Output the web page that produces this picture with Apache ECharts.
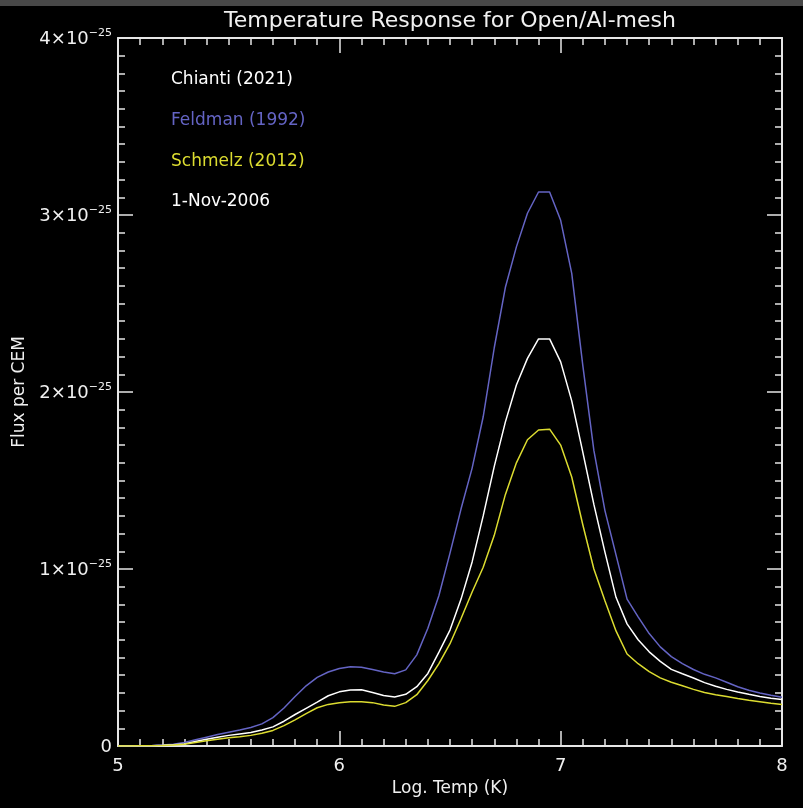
<!DOCTYPE html>
<html>
<head>
<meta charset="utf-8">
<script src="https://cdn.jsdelivr.net/npm/echarts@6/dist/echarts.min.js"></script>
<style>
  html, body { margin: 0; padding: 0; background: #000; }
  #chart { width: 803px; height: 808px; }
</style>
</head>
<body>
<div id="chart"></div>
<script>
// log T grid (K), 0.05 dex steps
const logT = [
  5.00, 5.05, 5.10, 5.15, 5.20, 5.25, 5.30, 5.35, 5.40, 5.45,
  5.50, 5.55, 5.60, 5.65, 5.70, 5.75, 5.80, 5.85, 5.90, 5.95,
  6.00, 6.05, 6.10, 6.15, 6.20, 6.25, 6.30, 6.35, 6.40, 6.45,
  6.50, 6.55, 6.60, 6.65, 6.70, 6.75, 6.80, 6.85, 6.90, 6.95,
  7.00, 7.05, 7.10, 7.15, 7.20, 7.25, 7.30, 7.35, 7.40, 7.45,
  7.50, 7.55, 7.60, 7.65, 7.70, 7.75, 7.80, 7.85, 7.90, 7.95,
  8.00
]

// flux per CEM, in units of 1e-25
const chianti2021 = [
  0.000, 0.000, 0.001, 0.002, 0.004, 0.007, 0.012, 0.025, 0.038, 0.050,
  0.060, 0.068, 0.076, 0.090, 0.108, 0.140, 0.178, 0.213, 0.248, 0.284,
  0.306, 0.317, 0.318, 0.302, 0.285, 0.277, 0.292, 0.335, 0.410, 0.530,
  0.655, 0.830, 1.040, 1.300, 1.580, 1.830, 2.040, 2.190, 2.300, 2.300,
  2.170, 1.950, 1.660, 1.365, 1.095, 0.840, 0.690, 0.600, 0.532, 0.478,
  0.433, 0.408, 0.384, 0.358, 0.338, 0.320, 0.305, 0.292, 0.280, 0.270,
  0.263
]
const feldman1992 = [
  0.000, 0.000, 0.001, 0.002, 0.005, 0.010, 0.020, 0.035, 0.050, 0.065,
  0.078, 0.090, 0.105, 0.125, 0.160, 0.215, 0.280, 0.340, 0.388, 0.418,
  0.438, 0.448, 0.445, 0.432, 0.418, 0.408, 0.430, 0.515, 0.665, 0.850,
  1.090, 1.340, 1.570, 1.860, 2.250, 2.590, 2.820, 3.010, 3.130, 3.130,
  2.970, 2.670, 2.150, 1.670, 1.330, 1.080, 0.830, 0.730, 0.635, 0.560,
  0.505, 0.465, 0.432, 0.405, 0.385, 0.360, 0.335, 0.315, 0.300, 0.287,
  0.276
]
const schmelz2012 = [
  0.000, 0.000, 0.001, 0.002, 0.003, 0.005, 0.010, 0.020, 0.030, 0.038,
  0.046, 0.052, 0.060, 0.072, 0.088, 0.115, 0.148, 0.183, 0.216, 0.235,
  0.245, 0.250, 0.250, 0.245, 0.232, 0.224, 0.245, 0.290, 0.370, 0.465,
  0.578, 0.720, 0.870, 1.010, 1.190, 1.420, 1.600, 1.730, 1.785, 1.790,
  1.700, 1.520, 1.250, 1.000, 0.820, 0.650, 0.520, 0.465, 0.420, 0.385,
  0.360, 0.340, 0.320, 0.302, 0.290, 0.280, 0.268, 0.258, 0.250, 0.242,
  0.235
]

const seriesNames = ['Chianti (2021)', 'Feldman (1992)', 'Schmelz (2012)']
const seriesColors = ['#ffffff', '#6464c4', '#dcdc30']
const dateLabel = '1-Nov-2006'

const FONT = '"DejaVu Sans", sans-serif'
const AXIS_COLOR = '#e6e6e6'
const TEXT_COLOR = '#f0f0f0'

function pairs(ys) {
  return logT.map((t, i) => [t, ys[i]])
}

const tickStyle = {
  inside: true,
  length: 15,
  lineStyle: { color: AXIS_COLOR, width: 1.5 }
}
const minorStyle = {
  show: true,
  splitNumber: 10,
  length: 7,
  lineStyle: { color: AXIS_COLOR, width: 1.5 }
}
const lineStyleAxis = { show: true, onZero: false, lineStyle: { color: AXIS_COLOR, width: 2 } }

const chart = echarts.init(document.getElementById('chart'))

const option = {
  backgroundColor: '#000',
  animation: false,
  title: {
    text: 'Temperature Response for Open/Al-mesh',
    left: 450,
    top: 10,
    padding: 0,
    textAlign: 'center',
    textStyle: { color: TEXT_COLOR, fontFamily: FONT, fontSize: 22, fontWeight: 'normal' }
  },
  grid: { left: 118, right: 21, top: 38, bottom: 62, containLabel: false },
  xAxis: [{
    type: 'value',
    min: 5, max: 8, interval: 1,
    position: 'bottom',
    name: 'Log. Temp (K)',
    nameLocation: 'middle',
    nameGap: 32,
    nameTextStyle: { color: TEXT_COLOR, fontFamily: FONT, fontSize: 17 },
    axisLine: lineStyleAxis,
    axisTick: tickStyle,
    minorTick: minorStyle,
    splitLine: { show: false },
    axisLabel: { color: TEXT_COLOR, fontFamily: FONT, fontSize: 18, margin: 11 }
  }, {
    type: 'value',
    min: 5, max: 8, interval: 1,
    position: 'top',
    axisLine: lineStyleAxis,
    axisTick: tickStyle,
    minorTick: minorStyle,
    splitLine: { show: false },
    axisLabel: { show: false }
  }],
  yAxis: [{
    type: 'value',
    min: 0, max: 4, interval: 1,
    position: 'left',
    name: 'Flux per CEM',
    nameLocation: 'middle',
    nameRotate: 90,
    nameGap: 90,
    nameTextStyle: { color: TEXT_COLOR, fontFamily: FONT, fontSize: 17 },
    axisLine: lineStyleAxis,
    axisTick: tickStyle,
    minorTick: minorStyle,
    splitLine: { show: false },
    axisLabel: {
      margin: 6,
      formatter: v => v === 0 ? '{b|0}' : '{b|' + v + '×10}{s|−25}',
      rich: {
        b: { color: TEXT_COLOR, fontFamily: FONT, fontSize: 18, lineHeight: 20, verticalAlign: 'bottom' },
        s: { color: TEXT_COLOR, fontFamily: FONT, fontSize: 11, lineHeight: 11, verticalAlign: 'top' }
      }
    }
  }, {
    type: 'value',
    min: 0, max: 4, interval: 1,
    position: 'right',
    axisLine: lineStyleAxis,
    axisTick: tickStyle,
    minorTick: minorStyle,
    splitLine: { show: false },
    axisLabel: { show: false }
  }],
  graphic: [
    { type: 'rect', left: 0, top: 0, shape: { width: 803, height: 6 }, style: { fill: '#484848' } },
    { type: 'text', left: 171, top: 71, style: { text: seriesNames[0], fill: seriesColors[0], font: '17px ' + FONT } },
    { type: 'text', left: 171, top: 112, style: { text: seriesNames[1], fill: seriesColors[1], font: '17px ' + FONT } },
    { type: 'text', left: 171, top: 153, style: { text: seriesNames[2], fill: seriesColors[2], font: '17px ' + FONT } },
    { type: 'text', left: 171, top: 193, style: { text: dateLabel, fill: '#ffffff', font: '17px ' + FONT } }
  ],
  series: [
    { name: seriesNames[1], type: 'line', data: pairs(feldman1992), color: seriesColors[1] },
    { name: seriesNames[0], type: 'line', data: pairs(chianti2021), color: seriesColors[0] },
    { name: seriesNames[2], type: 'line', data: pairs(schmelz2012), color: seriesColors[2] }
  ].map(s => Object.assign(s, {
    showSymbol: false,
    symbol: 'none',
    smooth: false,
    lineStyle: { width: 1.5, color: s.color },
    xAxisIndex: 0,
    yAxisIndex: 0
  }))
}

chart.setOption(option)
</script>
</body>
</html>
